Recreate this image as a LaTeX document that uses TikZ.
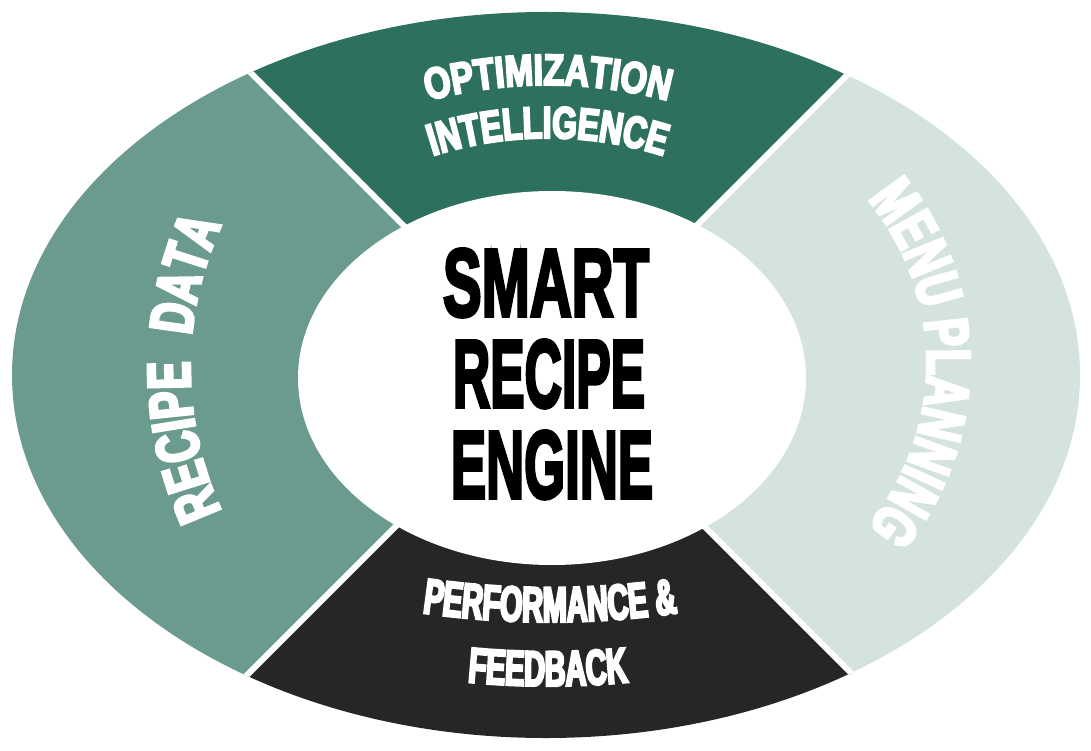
\documentclass[tikz,border=0pt]{standalone}
\usepackage{fontspec}
\usetikzlibrary{decorations.text}
\newfontfamily\fOpt{Liberation Sans Bold}[FakeStretch=0.77,FakeBold=4.5]
\newfontfamily\fInt{Liberation Sans Bold}[FakeStretch=0.71,FakeBold=4.5]
\newfontfamily\fRec{Liberation Sans Bold}[FakeStretch=0.68,FakeBold=4.5]
\newfontfamily\fMenu{Liberation Sans Bold}[FakeStretch=0.68,FakeBold=4.5]
\newfontfamily\fPerf{Liberation Sans Bold}[FakeStretch=0.58,FakeBold=4.5]
\newfontfamily\fFeed{Liberation Sans Bold}[FakeStretch=0.58,FakeBold=4.5]
\newfontfamily\fCen{Liberation Sans Bold}[FakeBold=4]
\newcommand\sOpt{\fOpt\fontsize{44pt}{44pt}\selectfont}
\newcommand\sInt{\fInt\fontsize{45pt}{45pt}\selectfont}
\newcommand\sRec{\fRec\fontsize{61pt}{61pt}\selectfont}
\newcommand\sMenu{\fMenu\fontsize{62pt}{62pt}\selectfont}
\newcommand\sPerf{\fPerf\fontsize{50pt}{50pt}\selectfont}
\newcommand\sFeed{\fFeed\fontsize{50pt}{50pt}\selectfont}
\definecolor{cRec}{HTML}{6A9B8E}
\definecolor{cOpt}{HTML}{2D705E}
\definecolor{cMenu}{HTML}{D4E3DE}
\definecolor{cPerf}{HTML}{262626}
\tikzset{
  gapline/.style={white, line width=6pt},
  ctext/.style={inner sep=0pt, anchor=base, text=black},
  arclabel/.style={decorate, decoration={text along path, text align=center, text color=white, text={#1}}}
}
\begin{document}
\begin{tikzpicture}[x=1pt,y=1pt]
\useasboundingbox (0,0) rectangle (1091,-751);
\fill[white] (0,0) rectangle (1091,-751);
\coordinate (O) at (550,-372);
\begin{scope}
  \clip (546,-375) ellipse [x radius=534, y radius=363];
  \fill[cOpt]  (O) -- ++(-800,800) -- ++(1600,0) -- cycle;
  \fill[cMenu] (O) -- ++(800,800) -- ++(0,-1600) -- cycle;
  \fill[cPerf] (O) -- ++(800,-800) -- ++(-1600,0) -- cycle;
  \fill[cRec]  (O) -- ++(-800,-800) -- ++(0,1600) -- cycle;
  \draw[gapline] (O) -- ++(-800,800);
  \draw[gapline] (O) -- ++(800,800);
  \draw[gapline] (O) -- ++(800,-800);
  \draw[gapline] (O) -- ++(-800,-800);
\end{scope}
\fill[white] (552,-378) ellipse [x radius=254, y radius=187];

\node[ctext] (t1) at (546,-316) {\resizebox{206pt}{67pt}{\fCen SMART}};
\node[ctext] (t2) at (549,-407) {\resizebox{192pt}{67pt}{\fCen RECIPE}};
\node[ctext] (t3) at (552,-498) {\resizebox{202pt}{67pt}{\fCen ENGINE}};

\path[arclabel={|\sOpt|OPTIMIZATION}] ([shift={(115:467)}]548,-552) arc[start angle=115, end angle=65, radius=467];
\path[arclabel={|\sInt|INTELLIGENCE}] ([shift={(115:380)}]548,-518) arc[start angle=115, end angle=65, radius=380];
\path[arclabel={|\sRec|RECIPE{\hspace{26pt}}DATA}] ([shift={(220:340)}]530,-368) arc[start angle=220, end angle=140, radius=340];
\path[arclabel={|\sMenu|MENU PLANNING}] ([shift={(60:255)}]672,-363) arc[start angle=60, end angle=-60, radius=255];
\path[arclabel={|\sPerf|PERFORMANCE {\&}}] ([shift={(255:900)}]550,278) arc[start angle=255, end angle=285, radius=900];
\path[arclabel={|\sFeed|FEEDBACK}] ([shift={(258:840)}]548,154) arc[start angle=258, end angle=282, radius=840];
\end{tikzpicture}
\end{document}
